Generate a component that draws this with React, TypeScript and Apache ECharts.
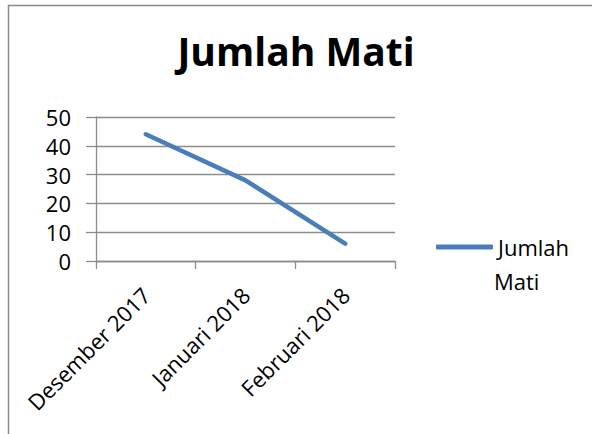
import React, { useEffect, useRef } from "react";
import * as echarts from "echarts";

const categories = ["Desember 2017", "Januari 2018", "Februari 2018"];
const seriesName = "Jumlah Mati";
const legendLines = ["Jumlah", "Mati"];
const values = [44, 28, 6];
const yMin = 0;
const yMax = 50;
const yStep = 10;

const FONT = "'Open Sans', sans-serif";
const GRID = "#8c8c8c";
const BLUE = "#4a7ebb";

export default function App() {
  const ref = useRef<HTMLDivElement>(null);
  useEffect(() => {
    if (!ref.current) return;
    const chart = echarts.init(ref.current, undefined, { renderer: "svg" });
    chart.setOption({
      animation: false,
      backgroundColor: "#ffffff",
      textStyle: { fontFamily: FONT },
      graphic: [
        {
          type: "rect",
          shape: { x: 8.5, y: 5.5, width: 700, height: 600 },
          style: { fill: "none", stroke: "#8a8a8a", lineWidth: 1.5 },
          silent: true,
        },
        {
          type: "text",
          x: 494,
          y: 281,
          style: {
            text: legendLines[1],
            fontFamily: FONT,
            fontSize: 22,
            fill: "#000",
            verticalAlign: "middle",
            align: "left",
          },
          silent: true,
        },
      ],
      title: {
        text: "Jumlah Mati",
        left: "center",
        top: 26,
        textStyle: { fontFamily: FONT, fontSize: 39, fontWeight: "bold", color: "#000" },
      },
      legend: {
        data: [seriesName],
        orient: "vertical",
        left: 431,
        top: 231,
        icon: "roundRect",
        itemWidth: 57,
        itemHeight: 5,
        formatter: () => legendLines[0],
        itemStyle: { color: BLUE },
        textStyle: { fontFamily: FONT, fontSize: 22, color: "#000" },
      },
      grid: { left: 96, right: 197, top: 117, bottom: 173, containLabel: false },
      xAxis: {
        type: "category",
        data: categories,
        boundaryGap: true,
        axisLine: { show: true, lineStyle: { color: GRID, width: 1.3 } },
        axisTick: { show: true, length: 8, lineStyle: { color: GRID, width: 1.3 } },
        axisLabel: {
          rotate: 45,
          margin: 30,
          fontFamily: FONT,
          fontSize: 22,
          color: "#000",
          interval: 0,
        },
        splitLine: { show: false },
      },
      yAxis: {
        type: "value",
        min: yMin,
        max: yMax,
        interval: yStep,
        axisLine: { show: true, lineStyle: { color: GRID, width: 1.3 } },
        axisTick: { show: true, length: 10, lineStyle: { color: GRID, width: 1.3 } },
        axisLabel: { margin: 25, fontFamily: FONT, fontSize: 22, color: "#000" },
        splitLine: { show: true, lineStyle: { color: GRID, width: 1.3 } },
      },
      series: [
        {
          name: seriesName,
          type: "line",
          data: values,
          symbol: "none",
          showSymbol: false,
          lineStyle: { color: BLUE, width: 4.5, cap: "round", join: "round" },
          itemStyle: { color: BLUE },
        },
      ],
    });
    return () => chart.dispose();
  }, []);
  return (
    <div
      ref={ref}
      style={{ position: "absolute", left: 0, top: 0, width: 592, height: 434 }}
    />
  );
}
